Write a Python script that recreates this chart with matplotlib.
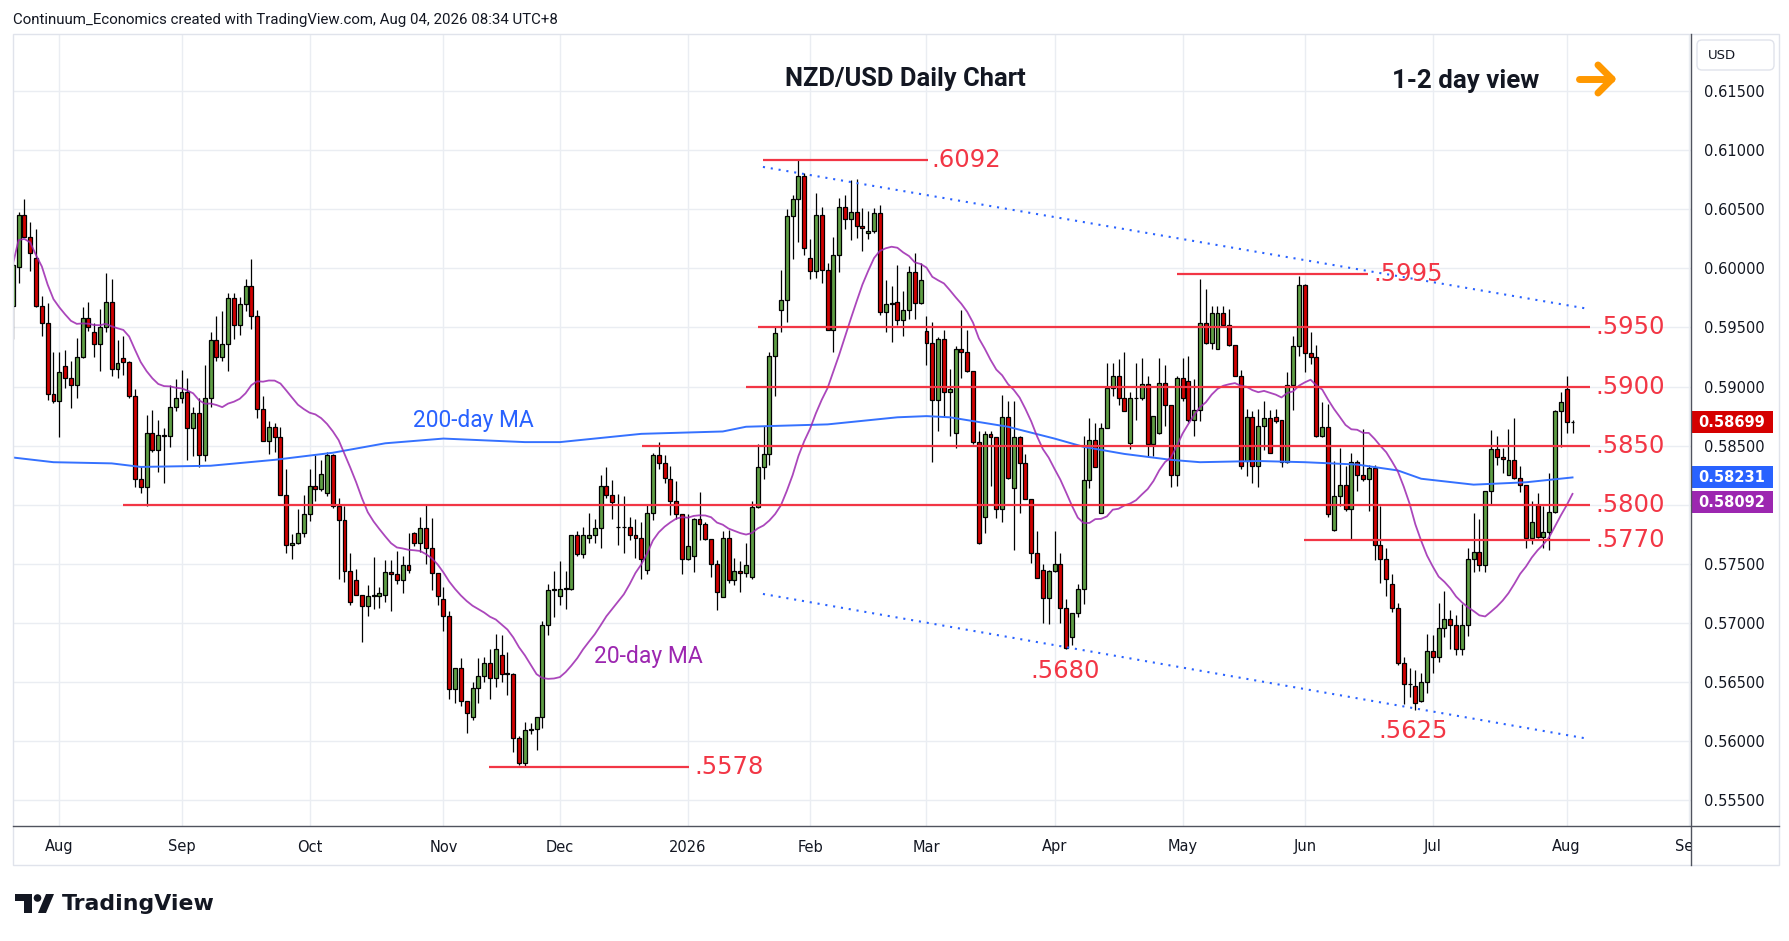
import matplotlib
matplotlib.use("Agg")
import matplotlib.pyplot as plt
from matplotlib.patches import Rectangle, FancyBboxPatch, Polygon, Circle
from matplotlib.transforms import Bbox, TransformedBbox
import numpy as np
import pandas as pd

# daily bars, 22 Jul 2025 - 4 Aug 2026 (no bar on 25 Dec / 1 Jan)
dates = pd.bdate_range("2025-07-22", "2026-08-04")
dates = dates[~dates.isin(pd.to_datetime(["2025-12-25", "2026-01-01"]))]

opens = [
    .5968, .6001, .6045, .6027, .6009, .5968, .5954, .5894,
    .5888, .5917, .5907, .5901, .5925, .5958, .5946, .5936, .5950, .5972, .5915, .5924, .5921, .5892, .5822, .5815, .5861, .5846, .5859, .5858, .5883,
    .5890, .5895, .5865, .5878, .5842, .5890, .5939, .5925, .5936, .5975, .5952, .5970, .5985, .5960, .5881, .5854, .5866, .5857, .5808, .5766, .5768, .5776,
    .5792, .5816, .5813, .5810, .5842, .5799, .5787, .5744, .5736, .5724, .5714, .5723, .5723, .5724, .5743, .5741, .5736, .5749, .5776, .5768, .5780, .5763, .5742,
    .5720, .5706, .5644, .5662, .5634, .5620, .5645, .5655, .5666, .5653, .5673, .5657, .5657, .5603, .5581, .5609, .5610, .5620, .5698, .5728,
    .5723, .5729, .5729, .5774, .5758, .5772, .5774, .5780, .5816, .5808, .5781, .5781, .5781, .5774, .5772, .5745, .5793, .5842, .5835, .5822, .5803, .5792,
    .5754, .5757, .5788, .5784, .5771, .5750, .5722, .5772, .5736, .5744, .5742, .5739, .5798, .5832, .5843, .5926, .5965, .5973, .6044, .6059, .6078,
    .6009, .5998, .6045, .5999, .5948, .6011, .6052, .6042, .6048, .6036, .6030, .6032, .6047, .5963, .5970, .5972, .5956, .5965, .5997, .5971,
    .5947, .5937, .5889, .5940, .5895, .5861, .5932, .5929, .5913, .5853, .5790, .5860, .5857, .5796, .5874, .5814, .5857, .5835, .5805, .5759, .5745, .5721,
    .5744, .5750, .5713, .5688, .5708, .5729, .5821, .5855, .5793, .5865, .5899, .5909, .5890, .5852, .5890, .5890, .5902, .5851, .5861, .5903, .5884, .5825,
    .5907, .5905, .5872, .5880, .5954, .5937, .5932, .5962, .5952, .5935, .5909, .5837, .5874, .5833, .5867, .5873, .5874, .5872, .5836, .5901, .5934,
    .5986, .5928, .5925, .5858, .5866, .5779, .5807, .5817, .5796, .5836, .5825, .5822, .5831, .5766, .5754, .5733, .5713, .5666, .5648, .5647, .5634, .5650,
    .5676, .5671, .5696, .5703, .5698, .5678, .5698, .5754, .5760, .5749, .5812, .5847, .5840, .5825, .5838, .5823, .5817, .5772, .5800, .5773, .5777, .5794, .5879,
    .5898, .5870,
]
highs = [
    .6005, .6048, .6059, .6039, .6033, .5977, .5971, .5929,
    .5929, .5931, .5922, .5941, .5967, .5972, .5954, .5966, .5996, .5991, .5939, .5943, .5922, .5898, .5833, .5876, .5880, .5872, .5865, .5901, .5906,
    .5914, .5907, .5883, .5890, .5918, .5946, .5960, .5964, .5979, .5979, .5976, .5991, .6008, .5965, .5892, .5871, .5869, .5866, .5830, .5775, .5796, .5808,
    .5830, .5842, .5838, .5845, .5843, .5806, .5799, .5759, .5746, .5724, .5732, .5756, .5730, .5753, .5753, .5761, .5757, .5776, .5777, .5790, .5801, .5789, .5742,
    .5730, .5710, .5662, .5670, .5634, .5650, .5670, .5671, .5678, .5691, .5690, .5675, .5658, .5604, .5616, .5615, .5620, .5702, .5733, .5744,
    .5752, .5744, .5774, .5778, .5781, .5793, .5788, .5825, .5832, .5821, .5809, .5807, .5790, .5788, .5785, .5801, .5844, .5853, .5842, .5833, .5820, .5792,
    .5792, .5789, .5811, .5785, .5771, .5753, .5778, .5779, .5755, .5752, .5768, .5803, .5851, .5867, .5929, .5951, .5999, .6050, .6062, .6092, .6081,
    .6025, .6064, .6052, .6005, .6027, .6060, .6062, .6075, .6076, .6051, .6049, .6051, .6054, .5990, .5985, .6003, .5981, .6002, .6013, .6005,
    .5960, .5955, .5942, .5948, .5915, .5934, .5965, .5948, .5913, .5862, .5862, .5862, .5857, .5893, .5888, .5888, .5858, .5843, .5805, .5778, .5750, .5745,
    .5778, .5759, .5720, .5708, .5733, .5858, .5873, .5869, .5869, .5920, .5920, .5923, .5929, .5895, .5920, .5924, .5909, .5875, .5924, .5918, .5884, .5909,
    .5924, .5926, .5906, .5991, .5983, .5968, .5968, .5968, .5966, .5935, .5914, .5881, .5879, .5881, .5888, .5880, .5881, .5872, .5912, .5943, .5994,
    .5987, .5946, .5935, .5887, .5885, .5837, .5848, .5833, .5844, .5838, .5864, .5834, .5834, .5799, .5763, .5741, .5717, .5671, .5662, .5660, .5658, .5691,
    .5690, .5717, .5727, .5711, .5707, .5716, .5763, .5793, .5788, .5812, .5863, .5858, .5848, .5864, .5873, .5833, .5817, .5803, .5810, .5799, .5827, .5880, .5895,
    .5909, .5872,
]
lows = [
    .5940, .5988, .6027, .5998, .5967, .5943, .5889, .5886,
    .5857, .5899, .5882, .5890, .5924, .5947, .5925, .5913, .5946, .5909, .5907, .5910, .5890, .5815, .5810, .5799, .5845, .5828, .5818, .5849, .5879,
    .5886, .5838, .5841, .5832, .5837, .5883, .5922, .5922, .5913, .5940, .5944, .5964, .5949, .5873, .5854, .5843, .5845, .5808, .5759, .5754, .5767, .5773,
    .5786, .5803, .5812, .5807, .5797, .5737, .5735, .5715, .5724, .5684, .5706, .5712, .5713, .5718, .5710, .5733, .5725, .5742, .5765, .5760, .5750, .5728, .5715,
    .5693, .5636, .5632, .5630, .5607, .5618, .5632, .5650, .5636, .5646, .5650, .5639, .5591, .5580, .5578, .5606, .5592, .5611, .5690, .5705,
    .5715, .5712, .5728, .5757, .5755, .5768, .5768, .5763, .5806, .5788, .5766, .5759, .5770, .5755, .5737, .5741, .5787, .5830, .5818, .5791, .5788, .5741,
    .5753, .5743, .5770, .5770, .5739, .5711, .5722, .5734, .5732, .5726, .5739, .5737, .5797, .5822, .5834, .5892, .5946, .5955, .6008, .6022, .6011,
    .5991, .5992, .5988, .5948, .5929, .5997, .6033, .6024, .6026, .6015, .6025, .6030, .5961, .5946, .5938, .5952, .5943, .5957, .5957, .5970,
    .5918, .5836, .5862, .5874, .5858, .5848, .5907, .5912, .5851, .5767, .5776, .5816, .5789, .5785, .5822, .5762, .5793, .5805, .5751, .5738, .5700, .5699,
    .5743, .5700, .5678, .5681, .5705, .5716, .5814, .5832, .5793, .5865, .5892, .5884, .5879, .5847, .5872, .5889, .5841, .5841, .5860, .5867, .5815, .5816,
    .5888, .5870, .5858, .5871, .5936, .5932, .5932, .5951, .5934, .5909, .5830, .5824, .5818, .5815, .5846, .5844, .5869, .5832, .5835, .5880, .5926,
    .5912, .5919, .5857, .5857, .5790, .5778, .5799, .5795, .5770, .5812, .5820, .5795, .5753, .5734, .5723, .5709, .5664, .5631, .5637, .5626, .5633, .5641,
    .5658, .5667, .5688, .5678, .5673, .5673, .5689, .5743, .5744, .5743, .5801, .5834, .5827, .5825, .5822, .5811, .5763, .5767, .5772, .5763, .5762, .5793, .5849,
    .5861, .5861,
]
closes = [
    .6003, .6045, .6027, .6013, .5968, .5954, .5894, .5888,
    .5912, .5907, .5901, .5925, .5958, .5950, .5936, .5950, .5972, .5915, .5920, .5921, .5892, .5822, .5815, .5861, .5846, .5859, .5858, .5883, .5890,
    .5895, .5865, .5878, .5842, .5890, .5939, .5925, .5936, .5975, .5952, .5970, .5985, .5960, .5881, .5854, .5866, .5857, .5808, .5766, .5768, .5776, .5792,
    .5816, .5813, .5826, .5842, .5799, .5787, .5744, .5718, .5724, .5714, .5723, .5724, .5725, .5743, .5741, .5736, .5749, .5745, .5768, .5780, .5763, .5742, .5723,
    .5706, .5644, .5662, .5634, .5624, .5645, .5655, .5666, .5653, .5678, .5657, .5657, .5603, .5581, .5609, .5610, .5620, .5698, .5728, .5729,
    .5729, .5729, .5774, .5758, .5774, .5774, .5780, .5816, .5808, .5802, .5781, .5781, .5774, .5772, .5754, .5793, .5842, .5835, .5823, .5803, .5792, .5754,
    .5765, .5788, .5784, .5771, .5750, .5726, .5772, .5736, .5744, .5742, .5749, .5798, .5832, .5843, .5926, .5945, .5973, .6044, .6059, .6078, .6017,
    .5998, .6045, .5999, .5948, .6011, .6052, .6042, .6048, .6036, .6034, .6032, .6047, .5963, .5970, .5971, .5956, .5965, .5997, .5971, .5990,
    .5937, .5889, .5940, .5895, .5898, .5932, .5929, .5913, .5853, .5768, .5860, .5857, .5796, .5874, .5823, .5857, .5835, .5805, .5759, .5738, .5721, .5744,
    .5750, .5713, .5679, .5708, .5729, .5821, .5855, .5832, .5865, .5899, .5909, .5890, .5879, .5890, .5890, .5902, .5851, .5875, .5903, .5884, .5825, .5907,
    .5890, .5872, .5880, .5954, .5937, .5962, .5962, .5952, .5935, .5909, .5833, .5874, .5833, .5867, .5873, .5844, .5871, .5836, .5901, .5934, .5986,
    .5928, .5925, .5858, .5866, .5792, .5807, .5817, .5796, .5836, .5825, .5822, .5831, .5766, .5754, .5737, .5713, .5666, .5648, .5648, .5632, .5650, .5676,
    .5671, .5696, .5703, .5698, .5678, .5698, .5754, .5760, .5749, .5812, .5847, .5840, .5839, .5838, .5823, .5817, .5772, .5785, .5773, .5777, .5794, .5879, .5887,
    .5870, .58699,
]

# 200-day MA (bar number, value)
ma200_bar = [0, 7, 17, 22, 34, 45, 55, 64, 74, 88, 94, 108, 122, 126, 140, 152,
             157, 161, 171, 179, 184, 191, 199, 204, 214, 222, 231, 238, 242, 251, 260, 268]
ma200_val = [0.5840, 0.5836, 0.5835, 0.5832, 0.5833, 0.5838, 0.5844, 0.5852, 0.5856, 0.5853,
             0.5853, 0.5860, 0.5862, 0.5866, 0.5868, 0.5874, 0.5875, 0.5874, 0.5866, 0.5856,
             0.5849, 0.5843, 0.5838, 0.5836, 0.5837, 0.5836, 0.5834, 0.5829, 0.5822, 0.5817,
             0.5819, 0.58231]

# support / resistance levels: price, first bar, last bar, bar where the label starts
levels = [0.6092, 0.5995, 0.5950, 0.5900, 0.5850, 0.5800, 0.5770, 0.5578]
level_from = [128.9, 200.0, 128.1, 126.0, 108.1, 18.9, 221.9, 81.8]
level_to = [157.3, 232.9, 271.0, 271.0, 271.0, 271.0, 271.0, 116.2]
level_text_at = [157.8, 233.7, 271.9, 271.9, 271.9, 271.9, 271.9, 117.1]

# low labels without a line
low_text = [".5680", ".5625"]
low_bar = [180.8, 240.6]
low_price = [0.56593, 0.56085]

# channel lines (bar, price)
chan_bar = [128.9, 270.8]
chan_top = [0.60859, 0.59657]
chan_bot = [0.57245, 0.56018]

n = len(dates)
assert len(opens) == len(highs) == len(lows) == len(closes) == n

o = np.array(opens); h = np.array(highs); l = np.array(lows); c = np.array(closes)
h = np.maximum(h, np.maximum(o, c))
l = np.minimum(l, np.minimum(o, c))
ma20 = pd.Series(c).rolling(20, min_periods=1).mean().values
x = np.arange(n)

# month ticks
month_idx, month_lab = [], []
for i in range(1, n):
    if dates[i].month != dates[i - 1].month:
        month_idx.append(i)
        month_lab.append(str(dates[i].year) if dates[i].month == 1 else dates[i].strftime("%b"))
ext = pd.bdate_range(dates[-1], "2026-09-01")
month_idx.append(n - 1 + len(ext) - 1)
month_lab.append("Sep")

W, H = 1789, 941
L_PX, R_PX, T_PX, B_PX = 13, 1691, 34, 826
YTOP, YBOT = 0.61984, 0.55281
TEXT = "#131722"
RED = "#F23645"
BLUE = "#2962FF"
PURPLE = "#9C27B0"
GRID = "#eaedf2"

y_px = lambda p: T_PX + (YTOP - p) / (YTOP - YBOT) * (B_PX - T_PX)

# last value tags on the price scale (stacked so they do not overlap)
tags = []
prev = None
for val, col in [(c[-1], "#d50000"), (ma200_val[-1], BLUE), (ma20[-1], PURPLE)]:
    yc = y_px(val)
    if prev is not None and yc - prev < 25:
        yc = prev + 25
    prev = yc
    tags.append((val, col, yc))

fig = plt.figure(figsize=(W / 100, H / 100), dpi=100)
fig.patch.set_facecolor("white")
ax = fig.add_axes([L_PX / W, 1 - B_PX / H, (R_PX - L_PX) / W, (B_PX - T_PX) / H])
ax.set_xlim(0.0447, 288.36)
ax.set_ylim(YBOT, YTOP)
for s in ax.spines.values():
    s.set_visible(False)

yt = np.arange(0.555, 0.6151, 0.005)
ax.set_yticks(yt)
ax.yaxis.tick_right()
# price labels hidden behind a tag are left out, as on the scale
ax.set_yticklabels(["" if min(abs(y_px(v) - t[2]) for t in tags) < 17 else f"{v:.5f}" for v in yt])
ax.tick_params(axis="y", length=0, pad=9.4, labelsize=10.5, labelcolor=TEXT)
ax.set_xticks(month_idx)
ax.set_xticklabels([])
ax.tick_params(axis="x", length=0)
ax.grid(True, color=GRID, linewidth=1.0, zorder=0)
ax.set_axisbelow(True)

# candles
up = c >= o
body_col = np.where(up, "#5f9f45", "#d10000")
ax.vlines(x, l, h, color="black", linewidth=0.9, zorder=2)
ax.bar(x, np.maximum(np.abs(c - o), 0.00003), bottom=np.minimum(o, c), width=0.68,
       color=body_col, edgecolor="black", linewidth=0.9, zorder=3)

# moving averages
ax.plot(ma200_bar, ma200_val, color="#3571ff", linewidth=1.4, zorder=4)
ax.plot(x, ma20, color=PURPLE, linewidth=1.3, alpha=0.85, zorder=4)

# channel
for ys in (chan_top, chan_bot):
    ax.plot(chan_bar, ys, color=BLUE, linewidth=1.5, linestyle=(0, (1, 2.8)), zorder=4)

# levels
for p, a, b, t in zip(levels, level_from, level_to, level_text_at):
    ax.plot([a, b], [p, p], color=RED, linewidth=1.6, zorder=5, solid_capstyle="butt")
    ax.text(t, p, f"{p:.4f}"[1:], color=RED, fontsize=17.5, va="center", ha="left", zorder=6)
for t, b, p in zip(low_text, low_bar, low_price):
    ax.text(b, p, t, color=RED, fontsize=17.5, va="center", ha="center", zorder=6)

ax.text(79.2, 0.58717, "200-day MA", color=BLUE, fontsize=16.4, ha="center", va="center",
        family="Roboto", zorder=6)
ax.text(109.3, 0.56714, "20-day MA", color=PURPLE, fontsize=16.5, ha="center", va="center",
        family="Roboto", zorder=6)

# overlay in pixel coordinates
ov = fig.add_axes([0, 0, 1, 1], zorder=10)
ov.set_xlim(0, W)
ov.set_ylim(H, 0)
ov.axis("off")
ov.patch.set_alpha(0)

ov.add_patch(Rectangle((13, 34), 1766, 831, fill=False, edgecolor="#e0e3eb", linewidth=1))
ov.plot([13, 1779], [826, 826], color="#50535e", linewidth=1)
ov.plot([1691, 1691], [34, 865], color="#50535e", linewidth=1)

ov.text(13, 20, "Continuum_Economics created with TradingView.com, Aug 04, 2026 08:34 UTC+8",
        family="Roboto", fontsize=10.8, color=TEXT, va="center", ha="left")
ov.text(905, 79, "NZD/USD Daily Chart", family="Roboto", fontweight="bold", fontsize=18.4,
        color=TEXT, ha="center", va="center")
ov.text(1466, 81, "1-2 day view", family="Roboto", fontweight="bold", fontsize=18.6,
        color=TEXT, ha="center", va="center")

# orange arrow
for seg in (([1579, 1611], [79, 79]), ([1598, 1612], [65, 79]), ([1598, 1612], [93, 79])):
    ov.plot(seg[0], seg[1], color="#FF9800", linewidth=5, solid_capstyle="round")

# month labels, clipped at the price scale
clip = TransformedBbox(Bbox([[0, 0], [R_PX / W, 1]]), fig.transFigure)
x_px = lambda i: L_PX + (i - 0.0447) / (288.36 - 0.0447) * (R_PX - L_PX)
for i, lab in zip(month_idx, month_lab):
    t = ov.text(x_px(i), 847, lab, fontsize=10.5, color=TEXT, ha="center", va="center")
    t.set_clip_box(clip)
    t.set_clip_on(True)

# USD box
ov.add_patch(FancyBboxPatch((1697, 40), 77, 30, boxstyle="round,pad=0,rounding_size=5",
                            facecolor="white", edgecolor="#e0e3eb", linewidth=1))
ov.text(1708, 55, "USD", fontsize=9.5, color=TEXT, va="center", ha="left")

for val, col, yc in tags:
    ov.add_patch(Rectangle((1692, yc - 11), 81, 22, facecolor=col, edgecolor="none"))
    ov.text(1732, yc, f"{val:.5f}", color="white", fontsize=10.5, fontweight="bold",
            ha="center", va="center")

# TradingView logo
ov.add_patch(Polygon([(15, 894), (32, 894), (32, 913), (24, 913), (24, 901), (15, 901)],
                     closed=True, facecolor=TEXT, edgecolor="none"))
ov.add_patch(Circle((37.5, 898), 3.8, facecolor=TEXT, edgecolor="none"))
ov.add_patch(Polygon([(38, 913), (46, 913), (54, 894), (46, 894)], closed=True,
                     facecolor=TEXT, edgecolor="none"))
ov.text(62, 904, "TradingView", fontsize=15.8, fontweight="bold", color=TEXT,
        va="center", ha="left")

fig.savefig("out.png", dpi=100, facecolor="white")
